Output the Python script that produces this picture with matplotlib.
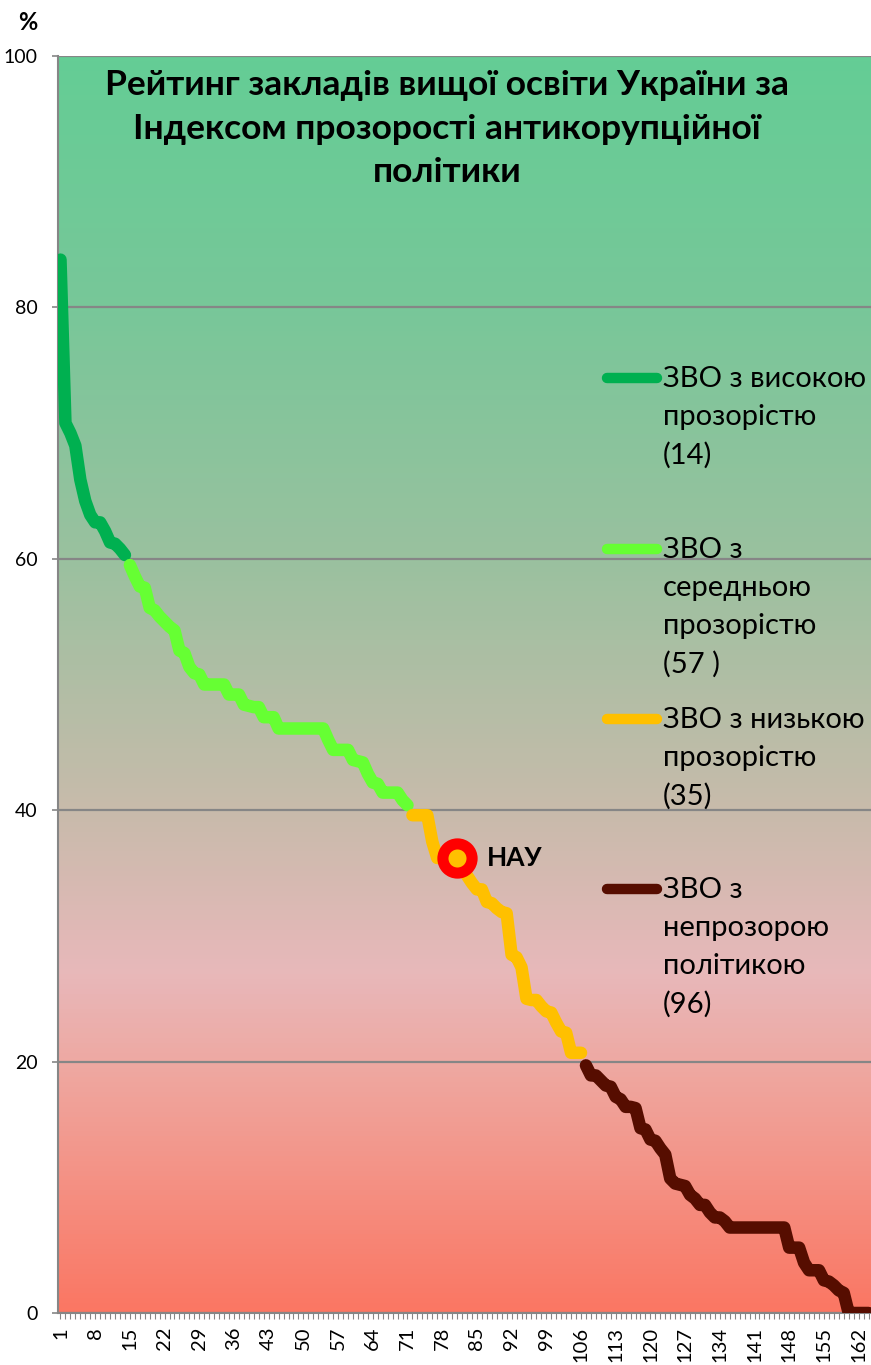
import numpy as np
import matplotlib.pyplot as plt
from matplotlib.colors import LinearSegmentedColormap
from matplotlib.lines import Line2D

plt.rcParams['font.family'] = ['Lato', 'DejaVu Sans']

# index values per group (ranks 1..164)
high = [83.8, 70.8, 70.0, 69.0, 66.3, 64.6, 63.5, 62.9, 62.9, 62.2, 61.3, 61.2, 60.8, 60.3]
medium = [59.5, 58.6, 57.8, 57.7, 56.1, 55.9, 55.4, 55.0, 54.6, 54.3,
          52.7, 52.5, 51.4, 50.9, 50.8, 50.0, 50.0, 50.0, 50.0, 50.0,
          49.2, 49.2, 49.2, 48.4, 48.3, 48.2, 48.2, 47.4, 47.4, 47.4,
          46.5, 46.5, 46.5, 46.5, 46.5, 46.5, 46.5, 46.5, 46.5, 46.5,
          45.6, 44.8, 44.8, 44.8, 44.8, 44.0, 43.9, 43.8, 42.9, 42.2,
          42.1, 41.4, 41.4, 41.4, 41.4, 40.8, 40.4]
low = [39.6, 39.6, 39.6, 39.6, 37.5, 36.2, 36.2, 36.2, 36.2, 36.2,
       35.4, 34.8, 34.2, 33.7, 33.7, 32.7, 32.6, 32.2, 31.9, 31.8,
       28.5, 28.3, 27.5, 25.0, 24.9, 24.9, 24.4, 24.0, 23.9, 23.1,
       22.4, 22.3, 20.7, 20.7, 20.7]
opaque = [19.7, 18.9, 18.9, 18.5, 18.1, 18.0, 17.2, 17.0, 16.4, 16.4,
          16.3, 14.7, 14.6, 13.8, 13.7, 13.1, 12.6, 10.7, 10.3, 10.2,
          10.1, 9.4, 9.1, 8.6, 8.6, 8.0, 7.6, 7.6, 7.3, 6.8,
          6.8, 6.8, 6.8, 6.8, 6.8, 6.8, 6.8, 6.8, 6.8, 6.8,
          6.8, 5.2, 5.2, 5.2, 4.0, 3.4, 3.4, 3.4, 2.6, 2.5,
          2.2, 1.8, 1.6, 0.0, 0.0, 0.0, 0.0, 0.0]

labels = ['ЗВО з високою\nпрозорістю\n(14)',
          'ЗВО з\nсередньою\nпрозорістю\n(57 )',
          'ЗВО з низькою\nпрозорістю\n(35)',
          'ЗВО з\nнепрозорою\nполітикою\n(96)']
colors = ['#00B050', '#66FF33', '#FFC000', '#560D00']
series = [high, medium, low, opaque]

nau_rank = 81
nau_label = 'НАУ'

title = ('Рейтинг закладів вищої освіти України за\n'
         'Індексом прозорості антикорупційної\nполітики')

n_total = sum(len(s) for s in series)

W, H = 871, 1365
fig = plt.figure(figsize=(W / 100, H / 100), dpi=100)
ax = fig.add_axes([58 / W, 52 / H, 1 - 58 / W, (1313 - 56) / H])

# background gradient, green on top to red at the bottom
bg = LinearSegmentedColormap.from_list('bg', [
    (0.0, '#FB7763'), (0.2, '#EEA9A3'), (0.27, '#E8B8BA'), (0.4, '#C8BBAB'),
    (0.6, '#9AC19F'), (0.8, '#78C799'), (1.0, '#64CD95')])
grad = np.linspace(0, 1, 256).reshape(-1, 1)
ax.imshow(grad, cmap=bg, origin='lower', aspect='auto',
          extent=[0.5, n_total + 0.5, 0, 100], zorder=0)

start = 1
for vals, c in zip(series, colors):
    x = np.arange(start, start + len(vals))
    ax.plot(x, vals, color=c, lw=9, solid_capstyle='round',
            solid_joinstyle='round', zorder=3)
    start += len(vals)

all_vals = np.concatenate(series)
ax.plot(nau_rank, all_vals[nau_rank - 1], 'o', ms=21, mfc='#FFC000',
        mec='#FF0000', mew=8, zorder=4)
ax.text(nau_rank + 6, all_vals[nau_rank - 1], nau_label, fontsize=19,
        fontweight='bold', va='center', ha='left', zorder=5)

ax.set_xlim(0.5, n_total + 0.5)
ax.set_ylim(0, 100)
ax.set_yticks(np.arange(0, 101, 20))
ax.grid(axis='y', color='#868686', lw=1.6)
ax.set_axisbelow(True)

ticks = np.arange(1, n_total + 1)
ax.set_xticks(ticks)
ax.set_xticklabels([str(t) if (t - 1) % 7 == 0 else '' for t in ticks],
                   rotation=90)
ax.tick_params(axis='x', length=4, width=0.8, color='#868686',
               labelsize=14.5, pad=6)
ax.tick_params(axis='y', length=4.5, width=1.2, color='#868686',
               labelsize=14, pad=10)
for s in ['top', 'right']:
    ax.spines[s].set_visible(False)
for s in ['left', 'bottom']:
    ax.spines[s].set_color('#868686')
    ax.spines[s].set_linewidth(1.5)

fig.text(447 / W, 1 - 69 / H, title, ha='center', va='top', fontsize=25.5,
         fontweight='bold', linespacing=1.45)
fig.text(28 / W, 1 - 22 / H, '%', ha='center', va='center', fontsize=17,
         fontweight='bold')

# legend drawn by hand: thick sample line next to the first text line
leg_y = [378, 549, 719, 889]
for lab, c, y in zip(labels, colors, leg_y):
    fig.add_artist(Line2D([607 / W, 657 / W], [1 - y / H, 1 - y / H],
                          color=c, lw=7.5, solid_capstyle='round'))
    fig.text(663 / W, 1 - (y - 12) / H, lab, ha='left', va='top',
             fontsize=21, linespacing=1.56)

fig.savefig('out.png', dpi=100)
